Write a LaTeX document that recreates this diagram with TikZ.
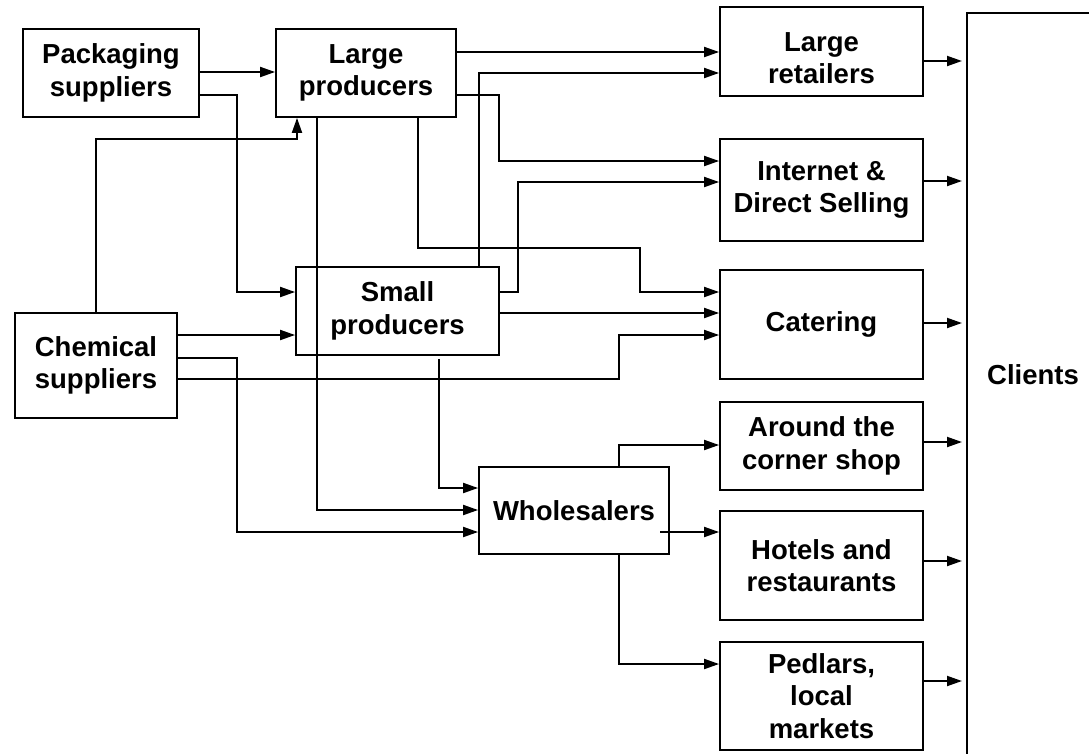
\documentclass[tikz,border=0pt]{standalone}
\usepackage{fontspec}
\setmainfont{Liberation Sans}
\usetikzlibrary{arrows.meta,calc}
\begin{document}
\begin{tikzpicture}[x=1pt,y=-1pt,
  box/.style={draw, line width=1.8pt, align=center, inner sep=0pt,
    font=\fontsize{27.5}{32.5}\selectfont\bfseries},
  arr/.style={line width=1.9pt, -{Triangle[length=15pt,width=10pt]}},
  lbl/.style={font=\fontsize{27.5}{32.5}\selectfont\bfseries, align=center}]
\useasboundingbox (0,0) rectangle (1089,753);
\clip (0,0) rectangle (1089,753);
\fill[white] (0,0) rectangle (1089,753);

% nodes
\node[box, minimum width=176pt, minimum height=88pt] (pack) at (111,73) {Packaging\\suppliers};
\node[box, minimum width=180pt, minimum height=88pt] (lp) at (366,73) {Large\\producers};
\node[box, minimum width=203pt, minimum height=88pt] (sp) at (397.5,311) {Small\\producers};
\node[box, minimum width=162pt, minimum height=105pt] (chem) at (96,365.5) {Chemical\\suppliers};
\node[box, minimum width=190pt, minimum height=87pt] (whole) at (574,510.5) {Wholesalers};
\node[box, minimum width=203pt, minimum height=89pt] (lr) at (821.5,51.5) {};
\node[lbl] (lrtext) at (821.5,58) {Large\\retailers};
\node[box, minimum width=203pt, minimum height=102pt] (inet) at (821.5,190) {Internet \&\\Direct Selling};
\node[box, minimum width=203pt, minimum height=109pt] (cat) at (821.5,324.5) {Catering};
\node[box, minimum width=203pt, minimum height=88pt] (acs) at (821.5,446) {Around the\\corner shop};
\node[box, minimum width=203pt, minimum height=109pt] (hot) at (821.5,565.5) {Hotels and\\restaurants};
\node[box, minimum width=203pt, minimum height=108pt] (ped) at (821.5,696) {Pedlars,\\local\\markets};
\node[draw, line width=1.8pt, minimum width=170pt, minimum height=800pt, anchor=north west, inner sep=0pt] (cl) at (966,12) {};
\node[lbl] (cltext) at (1033,375) {Clients};

\coordinate (wh) at (660,532);

% connectors
\draw[arr] (pack.east |- 0,72) -- (lp.west |- 0,72);
\draw[arr] (pack.east |- 0,95) -- (237,95) -- (237,292) -- (sp.west |- 0,292);
\draw[arr] (chem.north) -- (96,139) -- (297,139) -- (lp.south -| 297,0);
\draw[arr] (lp.east |- 0,52) -- (lr.west |- 0,52);
\draw[arr] (sp.north -| 479,0) -- (479,73) -- (lr.west |- 0,73);
\draw[arr] (lp.east |- 0,95) -- (499,95) -- (499,161) -- (inet.west |- 0,161);
\draw[arr] (sp.east |- 0,292) -- (518,292) -- (518,182) -- (inet.west |- 0,182);
\draw[arr] (lp.south -| 418,0) -- (418,248) -- (640,248) -- (640,292) -- (cat.west |- 0,292);
\draw[arr] (sp.east |- 0,313) -- (cat.west |- 0,313);
\draw[arr] (chem.east |- 0,335) -- (sp.west |- 0,335);
\draw[arr] (chem.east |- 0,379) -- (619,379) -- (619,335) -- (cat.west |- 0,335);
\draw[arr] (chem.east |- 0,358) -- (237,358) -- (237,532) -- (whole.west |- 0,532);
\draw[arr] (lp.south -| 317,0) -- (317,510) -- (whole.west |- 0,510);
\draw[arr] ([yshift=-3pt]sp.south -| 439,0) -- (439,488) -- (whole.west |- 0,488);
\draw[arr] (whole.north -| 619,0) -- (619,445) -- (acs.west |- 0,445);
\draw[arr] (wh) -- (hot.west |- wh);
\draw[arr] (whole.south -| 619,0) -- (619,664) -- (ped.west |- 0,664);

\foreach \n/\y in {lr/61, inet/181, cat/323, acs/442, hot/561, ped/681}
  \draw[arr, shorten >=4pt] (\n.east |- 0,\y) -- (cl.west |- 0,\y);
\end{tikzpicture}
\end{document}
